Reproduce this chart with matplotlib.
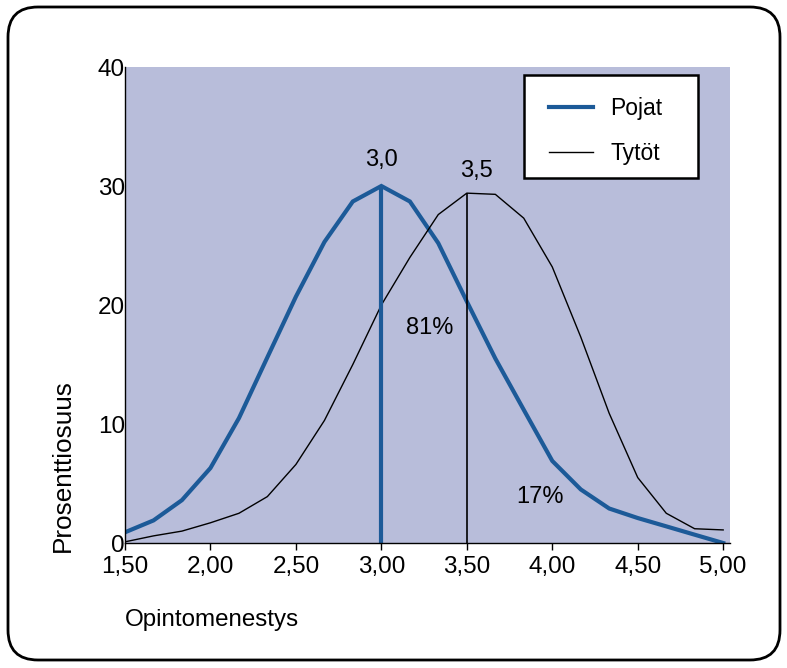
import matplotlib.pyplot as plt
from matplotlib.patches import FancyBboxPatch, Rectangle

plt.rcParams['font.family'] = ['Liberation Sans', 'DejaVu Sans']

# arvosanat (x) ja osuudet (%)
grades = [1.5, 1.667, 1.833, 2.0, 2.167, 2.333, 2.5, 2.667, 2.833, 3.0, 3.167,
          3.333, 3.5, 3.667, 3.833, 4.0, 4.167, 4.333, 4.5, 4.667, 4.833, 5.0]
pojat = [0.9, 1.9, 3.6, 6.3, 10.5, 15.6, 20.7, 25.3, 28.7, 30.0, 28.7,
         25.2, 20.3, 15.5, 11.2, 6.9, 4.5, 2.9, 2.1, 1.4, 0.7, 0.0]
tytot = [0.1, 0.6, 1.0, 1.7, 2.5, 3.9, 6.6, 10.3, 15.0, 20.0, 24.0,
         27.6, 29.4, 29.3, 27.3, 23.2, 17.3, 10.9, 5.5, 2.5, 1.2, 1.1]
xticks = [1.5, 2.0, 2.5, 3.0, 3.5, 4.0, 4.5, 5.0]
xticklabels = ['1,50', '2,00', '2,50', '3,00', '3,50', '4,00', '4,50', '5,00']
yticks = [0, 10, 20, 30, 40]

BLUE = '#1c5a98'
BG = '#b8bdda'
FS = 17.5

fig = plt.figure(figsize=(7.87, 6.68), dpi=100)
ax = fig.add_axes([0.1588, 0.1871, 0.7688, 0.7126])
ax.set_facecolor(BG)

ax.plot(grades, pojat, color=BLUE, lw=3, label='Pojat', solid_joinstyle='miter')
ax.plot(grades, tytot, color='black', lw=1, label='Tytöt')
ax.vlines(3.0, 0, 30.0, color=BLUE, lw=3)
ax.vlines(3.5, 0, 29.4, color='black', lw=1.2)

ax.text(3.0, 32.2, '3,0', ha='center', va='center', fontsize=17)
ax.text(3.557, 31.3, '3,5', ha='center', va='center', fontsize=17)
ax.text(3.28, 18.1, '81%', ha='center', va='center', fontsize=17)
ax.text(3.927, 3.9, '17%', ha='center', va='center', fontsize=17)

ax.set_xlim(1.5, 5.04)
ax.set_ylim(0, 40)
ax.set_xticks(xticks)
ax.set_xticklabels(xticklabels, fontsize=FS)
ax.set_yticks(yticks)
ax.set_yticklabels([str(v) for v in yticks], fontsize=FS)
ax.tick_params(axis='x', length=5, width=1, pad=4, direction='out')
ax.tick_params(axis='y', length=0, pad=0)
for s in ['top', 'right']:
    ax.spines[s].set_visible(False)
for s in ['left', 'bottom']:
    ax.spines[s].set_linewidth(1)

# legend box drawn separately so the padding can be uneven
ax.add_patch(Rectangle((0.6595, 0.767), 0.2875, 0.216, transform=ax.transAxes,
                       facecolor='white', edgecolor='black', lw=1.8, zorder=4))
leg = ax.legend(loc='upper left', bbox_to_anchor=(0.701, 0.937), fontsize=16.5,
                frameon=False, handlelength=1.92, borderpad=0,
                labelspacing=0.96, handletextpad=0.74, borderaxespad=0)
leg.set_zorder(5)

fig.text(0.080, 0.303, 'Prosenttiosuus', rotation=90, ha='center', va='center',
         fontsize=18.8)
fig.text(0.159, 0.072, 'Opintomenestys', ha='left', va='center', fontsize=17.4)

border = FancyBboxPatch((0.08, 0.08), 7.72, 6.53,
                        boxstyle='round,pad=0,rounding_size=0.3',
                        transform=fig.dpi_scale_trans, fill=False,
                        edgecolor='black', lw=2)
fig.patches.append(border)

fig.savefig('out.png', dpi=100)
